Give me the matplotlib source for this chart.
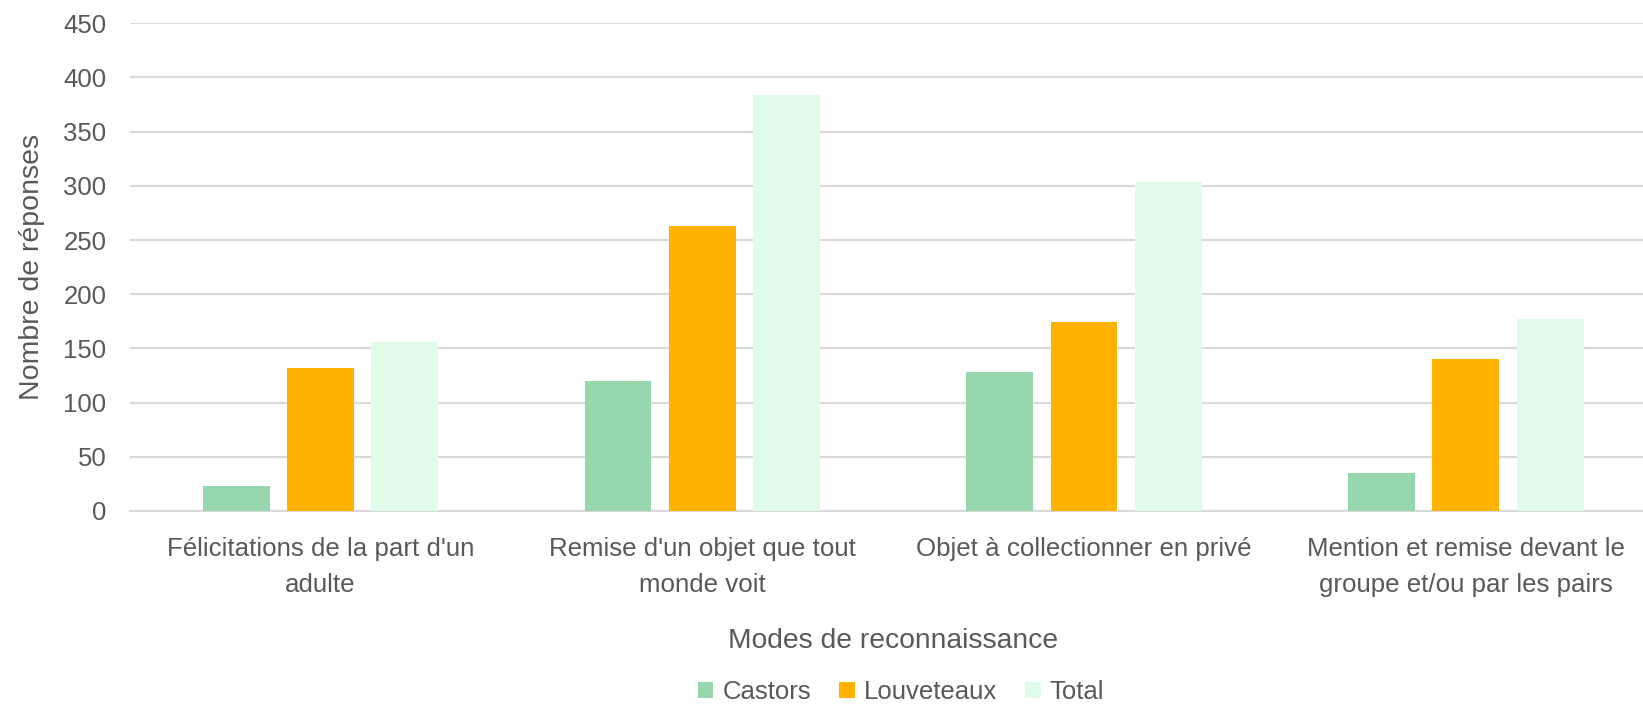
import numpy as np
import matplotlib
matplotlib.use('Agg')
import matplotlib.pyplot as plt

plt.rcParams['font.family'] = ['Liberation Sans', 'DejaVu Sans']

# data
categories = ["Félicitations de la part d'un\nadulte",
              "Remise d'un objet que tout\nmonde voit",
              "Objet à collectionner en privé",
              "Mention et remise devant le\ngroupe et/ou par les pairs"]
castors = [23, 120, 128, 35]
louveteaux = [132, 263, 174, 140]
total = [156, 384, 304, 177]
series_names = ["Castors", "Louveteaux", "Total"]
colors = ["#96D7AE", "#FFB300", "#E0FCE8"]

txt = "#595959"
W, H = 1643, 704
fig = plt.figure(figsize=(W / 100, H / 100), dpi=100)
ax = fig.add_axes([130 / W, 1 - 511 / H, 1 - 130 / W, (511 - 23.3) / H])

x = np.arange(len(categories))
w = 0.175
step = 0.221
for i, (vals, name) in enumerate(zip([castors, louveteaux, total], series_names)):
    ax.bar(x + (i - 1) * step, vals, w, color=colors[i], label=name, zorder=3)

ax.set_xlim(-0.499, 3.464)
ax.set_ylim(0, 450)
ax.set_yticks(np.arange(0, 451, 50))
ax.yaxis.grid(True, color="#D9D9D9", linewidth=1.5, zorder=0)
ax.set_axisbelow(True)
for s in ['top', 'right', 'left']:
    ax.spines[s].set_visible(False)
ax.spines['bottom'].set_color("#D9D9D9")
ax.spines['bottom'].set_linewidth(1.5)
ax.tick_params(axis='both', length=0, colors=txt)
ax.tick_params(axis='y', pad=17, labelsize=18.5)
ax.tick_params(axis='x', pad=18.5, labelsize=18.6)
ax.set_xticks(x)
ax.set_xticklabels(categories, linespacing=1.66)

ax.set_ylabel("Nombre de réponses", fontsize=20.5, color=txt, labelpad=13)
fig.text(893 / W, 1 - 648 / H, "Modes de reconnaissance", fontsize=20.3,
         color=txt, ha='center', va='baseline')

ax.legend(loc='center', bbox_to_anchor=(901 / W, 1 - 692 / H),
          bbox_transform=fig.transFigure, ncol=3, frameon=False,
          fontsize=18.5, labelcolor=txt, handlelength=0.6, handleheight=0.6,
          handletextpad=0.35, columnspacing=1.1)

fig.savefig("out.png", dpi=100)
